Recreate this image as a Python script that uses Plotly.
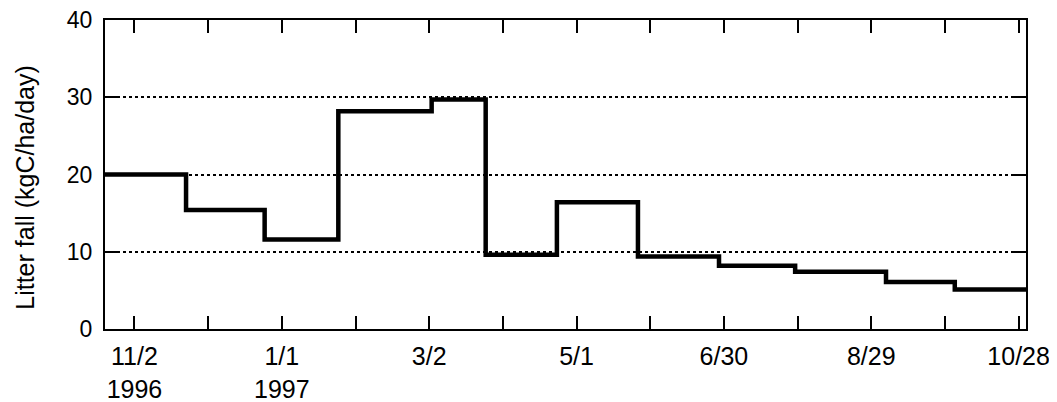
import plotly.graph_objects as go

# Step start dates and litter-fall values (kgC/ha/day)
step_dates = ["1996-10-21", "1996-11-23", "1996-12-25", "1997-01-24", "1997-03-03",
              "1997-03-25", "1997-04-23", "1997-05-26", "1997-06-28", "1997-07-29",
              "1997-09-04", "1997-10-02", "1997-10-31"]
litter = [20.0, 15.4, 11.6, 28.2, 29.7, 9.6, 16.4, 9.4, 8.2, 7.4, 6.1, 5.1, 5.1]

tick_dates = ["1996-11-02", "1996-12-02", "1997-01-01", "1997-01-31", "1997-03-02",
              "1997-04-01", "1997-05-01", "1997-05-31", "1997-06-30", "1997-07-30",
              "1997-08-29", "1997-09-28", "1997-10-28"]
tick_text = ["11/2<br>1996", "", "1/1<br>1997", "", "3/2", "", "5/1", "", "6/30", "",
             "8/29", "", "10/28"]

y_ticks = [0, 10, 20, 30, 40]
x_range = ["1996-10-21", "1997-10-31"]
y_title = "Litter fall (kgC/ha/day)"

FONT = "Liberation Sans, Arial, sans-serif"

fig = go.Figure()
fig.add_trace(go.Scatter(x=step_dates, y=litter, mode="lines",
                         line=dict(shape="hv", color="black", width=4.5),
                         showlegend=False, hoverinfo="skip"))

fig.add_annotation(text=y_title, xref="paper", yref="paper", x=-0.087, y=0.46,
                   xanchor="center", yanchor="middle", textangle=-90, showarrow=False,
                   font=dict(family=FONT, size=25, color="black"))

fig.update_layout(
    width=1049, height=394,
    margin=dict(l=97, r=31, t=12, b=73, autoexpand=False),
    plot_bgcolor="white", paper_bgcolor="white",
    font=dict(family=FONT, size=23, color="black"),
    xaxis=dict(type="date", range=x_range, tickmode="array", tickvals=tick_dates,
               ticktext=tick_text, ticks="inside", ticklen=13, tickwidth=2,
               tickcolor="black", showline=True, linecolor="black", linewidth=2,
               mirror="ticks", showgrid=False, zeroline=False,
               ticklabelstandoff=4, ticklabeloverflow="allow",
               tickfont=dict(family=FONT, size=25, color="black")),
    yaxis=dict(range=[0, 40], tickmode="array", tickvals=y_ticks, ticks="inside",
               ticklen=12, tickwidth=2, tickcolor="black", showline=True,
               linecolor="black", linewidth=2, mirror="ticks",
               showgrid=True, gridcolor="black", gridwidth=1.5, griddash="dot",
               zeroline=False, ticklabelstandoff=6, ticklabeloverflow="allow",
               tickfont=dict(family=FONT, size=23, color="black")),
)

fig.write_html("out.html")
